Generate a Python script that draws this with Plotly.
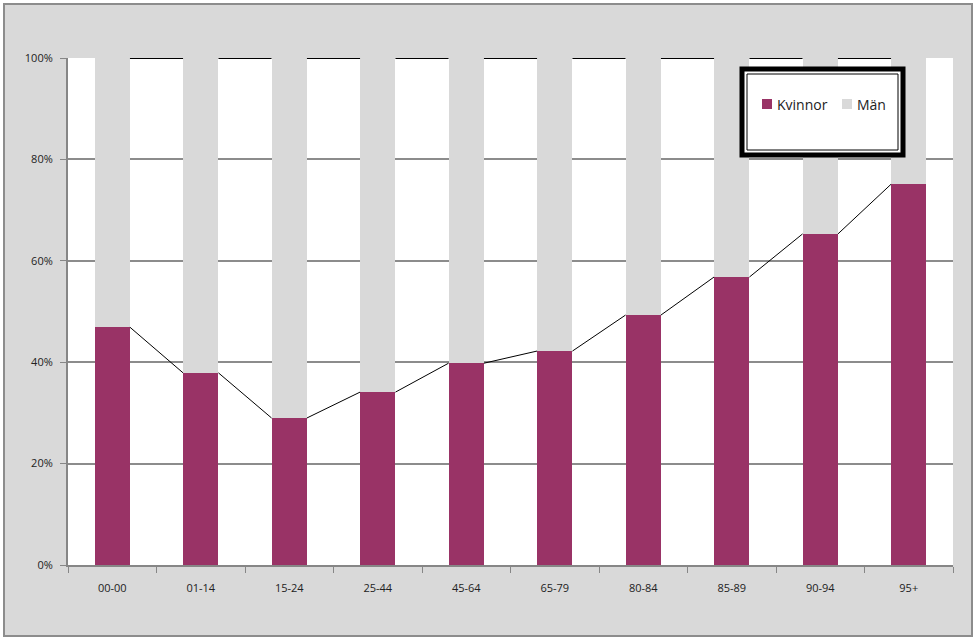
import plotly.graph_objects as go

categories = ["00-00", "01-14", "15-24", "25-44", "45-64", "65-79", "80-84", "85-89", "90-94", "95+"]
kvinnor = [46.9, 37.9, 29.0, 34.1, 39.8, 42.2, 49.3, 56.8, 65.3, 75.1]
man = [round(100 - k, 1) for k in kvinnor]
y_ticks = [0, 20, 40, 60, 80, 100]
series_names = ["Kvinnor", "Män"]
series_colors = ["#993366", "#D9D9D9"]

BAR_W = 0.4
idx = list(range(len(categories)))

fig = go.Figure()
fig.add_bar(x=idx, y=kvinnor, name=series_names[0], marker_color=series_colors[0],
            width=BAR_W, marker_line_width=0, showlegend=False)
fig.add_bar(x=idx, y=man, name=series_names[1], marker_color=series_colors[1],
            width=BAR_W, marker_line_width=0, showlegend=False)

# Series lines between bar tops
totals = [k + m for k, m in zip(kvinnor, man)]
def series_line(vals):
    xs, ys = [], []
    for i in range(len(vals) - 1):
        xs += [i + BAR_W / 2, i + 1 - BAR_W / 2, None]
        ys += [vals[i], vals[i + 1], None]
    return xs, ys

sx, sy = series_line(kvinnor)
fig.add_scatter(x=sx, y=sy, mode="lines", line=dict(color="black", width=1),
                showlegend=False, hoverinfo="skip")
tx, ty = series_line(totals)
fig.add_scatter(x=tx, y=ty, mode="lines", line=dict(color="black", width=2),
                showlegend=False, hoverinfo="skip")

W, H = 976, 643
L, T = 68, 58
R = W - 953
B = H - 565
pw, ph = W - L - R, H - T - B

def px(x):
    return (x - L) / pw

def py(y):
    return (H - B - y) / ph

shapes = [
    dict(type="rect", xref="paper", yref="paper", layer="below",
         x0=px(4), x1=px(972), y0=py(636), y1=py(4),
         fillcolor="#D9D9D9", line=dict(color="#8C8C8C", width=2)),
    dict(type="rect", xref="paper", yref="paper", layer="below",
         x0=0, x1=1, y0=0, y1=1, fillcolor="white", line=dict(width=0)),
    dict(type="rect", xref="paper", yref="paper", layer="above",
         x0=px(742), x1=px(903), y0=py(155), y1=py(69),
         fillcolor="white", line=dict(color="black", width=5)),
    dict(type="rect", xref="paper", yref="paper", layer="above",
         x0=px(747), x1=px(898), y0=py(150), y1=py(74),
         fillcolor="rgba(0,0,0,0)", line=dict(color="black", width=1)),
]

annotations = []
legend_pos = [(762, 775), (842, 855)]
for name, color, (sxp, txp) in zip(series_names, series_colors, legend_pos):
    shapes.append(dict(type="rect", xref="paper", yref="paper", layer="above",
                       x0=px(sxp), x1=px(sxp + 10), y0=py(109), y1=py(99),
                       fillcolor=color, line=dict(width=0)))
    annotations.append(dict(xref="paper", yref="paper", x=px(txp), y=py(104),
                            xanchor="left", yanchor="middle", text=name,
                            showarrow=False, font=dict(size=14, color="#222")))

fig.update_layout(
    barmode="stack",
    width=W, height=H,
    margin=dict(l=L, r=R, t=T, b=B),
    paper_bgcolor="white",
    plot_bgcolor="rgba(0,0,0,0)",
    font=dict(family="Open Sans, Liberation Sans, sans-serif", size=11, color="#222"),
    shapes=shapes,
    annotations=annotations,
    showlegend=False,
    xaxis=dict(
        range=[-0.5, len(categories) - 0.5],
        tickvals=idx, ticktext=categories, ticks="", showgrid=False,
        showline=True, linecolor="#868686", linewidth=2,
        zeroline=False, ticklabelstandoff=12,
        minor=dict(tickvals=[i - 0.5 for i in range(len(categories) + 1)],
                   ticks="outside", ticklen=6, tickcolor="#868686", tickwidth=1,
                   showgrid=False),
        tickfont=dict(size=11),
    ),
    yaxis=dict(
        range=[0, 100], tickvals=y_ticks, ticktext=[f"{v}%" for v in y_ticks],
        showgrid=True, gridcolor="#8C8C8C", gridwidth=1.5,
        showline=True, linecolor="#868686", linewidth=2,
        ticks="outside", ticklen=6, tickcolor="#868686",
        zeroline=False, tickfont=dict(size=11), ticklabelstandoff=5,
    ),
    bargap=0.6,
)

fig.write_html("out.html", config={"displayModeBar": False},
               post_script="document.body.style.margin='0';")
